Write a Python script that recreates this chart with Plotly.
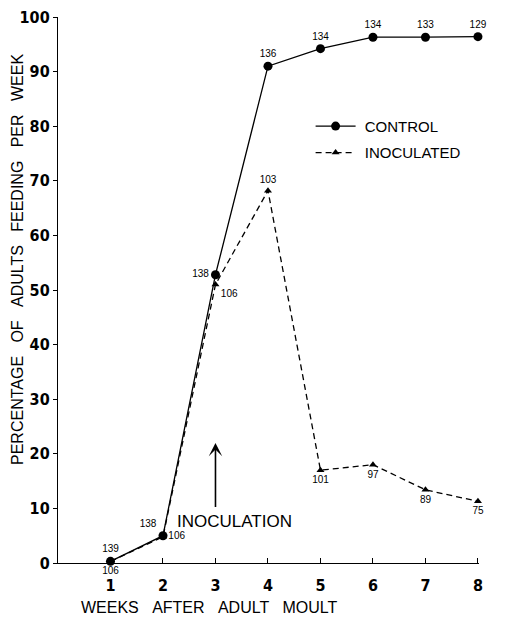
import plotly.graph_objects as go

weeks = [1, 2, 3, 4, 5, 6, 7, 8]
control = [0.3, 5.0, 52.8, 91.0, 94.2, 96.3, 96.3, 96.4]
inoculated = [0.3, 4.8, 51.0, 68.2, 17.0, 18.0, 13.4, 11.3]
control_n = ["139", "138", "138", "136", "134", "134", "133", "129"]
inoculated_n = ["106", "106", "106", "103", "101", "97", "89", "75"]
control_pos = ["top center", "top left", "middle left", "top center",
               "top center", "top center", "top center", "top center"]
inoc_pos = ["bottom center", "middle right", "bottom right", "top center",
            "bottom center", "bottom center", "bottom center", "bottom center"]
y_ticks = [0, 10, 20, 30, 40, 50, 60, 70, 80, 90, 100]

NB = "\u00a0"
tick_font = dict(family="Liberation Sans Narrow, DejaVu Sans Condensed, Arial Narrow, sans-serif",
                 size=16, color="black", weight="bold")
lab_font = dict(family="Liberation Sans Narrow, Liberation Sans, sans-serif", size=10, color="black")
title_font = dict(family="Liberation Sans, Arial, sans-serif", size=16, color="black")

fig = go.Figure()
fig.add_trace(go.Scatter(
    x=weeks, y=control, mode="lines+markers+text", name=NB + "CONTROL", legendgroup="c",
    line=dict(color="black", width=1.3),
    marker=dict(symbol="circle", size=9, color="black"),
    text=control_n, textposition=control_pos, textfont=lab_font, cliponaxis=False))
fig.add_trace(go.Scatter(
    x=weeks, y=inoculated, mode="lines+markers+text", name=NB + "INOCULATED", legendgroup="i",
    line=dict(color="black", width=1.3, dash="6px,4px"),
    marker=dict(symbol="triangle-up", size=7, color="black"),
    text=inoculated_n, textposition=inoc_pos, textfont=lab_font, cliponaxis=False))

arrow_x, arrow_tail, arrow_head = 3, 10, 22
fig.add_annotation(x=arrow_x, y=arrow_head, ax=arrow_x, ay=arrow_tail, axref="x", ayref="y",
                   showarrow=True, arrowhead=3, arrowsize=1.4, arrowwidth=1.6,
                   arrowcolor="black", text="")
fig.add_annotation(x=3.37, y=7.6, text="INOCULATION", showarrow=False,
                   font=dict(family="Liberation Sans, Arial, sans-serif", size=17, color="black"))
fig.add_annotation(x=0.361, y=-0.081, xref="paper", yref="paper",
                   text=(NB * 3).join(["WEEKS", "AFTER", "ADULT", "MOULT"]),
                   showarrow=False, font=title_font, yanchor="middle")
fig.add_annotation(x=-0.095, y=0.555, xref="paper", yref="paper", textangle=-90,
                   text=(NB * 3).join(["PERCENTAGE", "OF", "ADULTS", "FEEDING", "PER", "WEEK"]),
                   showarrow=False, font=title_font, xanchor="center", yanchor="middle")

fig.update_xaxes(range=[0, 8.02], tickvals=weeks, ticktext=[str(w) for w in weeks],
                 showline=True, linecolor="black", linewidth=1.3, ticks="inside",
                 ticklen=5, tickcolor="black", tickwidth=1.3, showgrid=False, zeroline=False,
                 tickfont=tick_font, ticklabelstandoff=8, automargin=False,
                 ticklabeloverflow="allow")
fig.update_yaxes(range=[0, 100], tickvals=y_ticks, showline=True, linecolor="black",
                 linewidth=1.3, ticks="outside", ticklen=4, tickcolor="black", tickwidth=1.3,
                 showgrid=False, zeroline=False, tickfont=tick_font, automargin=False,
                 ticklabeloverflow="allow")

fig.update_layout(
    width=515, height=613, plot_bgcolor="white", paper_bgcolor="white",
    margin=dict(l=50, r=44, t=9, b=58, autoexpand=False),
    showlegend=True,
    legend=dict(x=0.6, y=0.83, xanchor="left", yanchor="top", bgcolor="rgba(0,0,0,0)",
                font=dict(family="Liberation Sans, Arial, sans-serif", size=15, color="black"),
                itemwidth=40, tracegroupgap=4),
)
fig.write_html("out.html")
